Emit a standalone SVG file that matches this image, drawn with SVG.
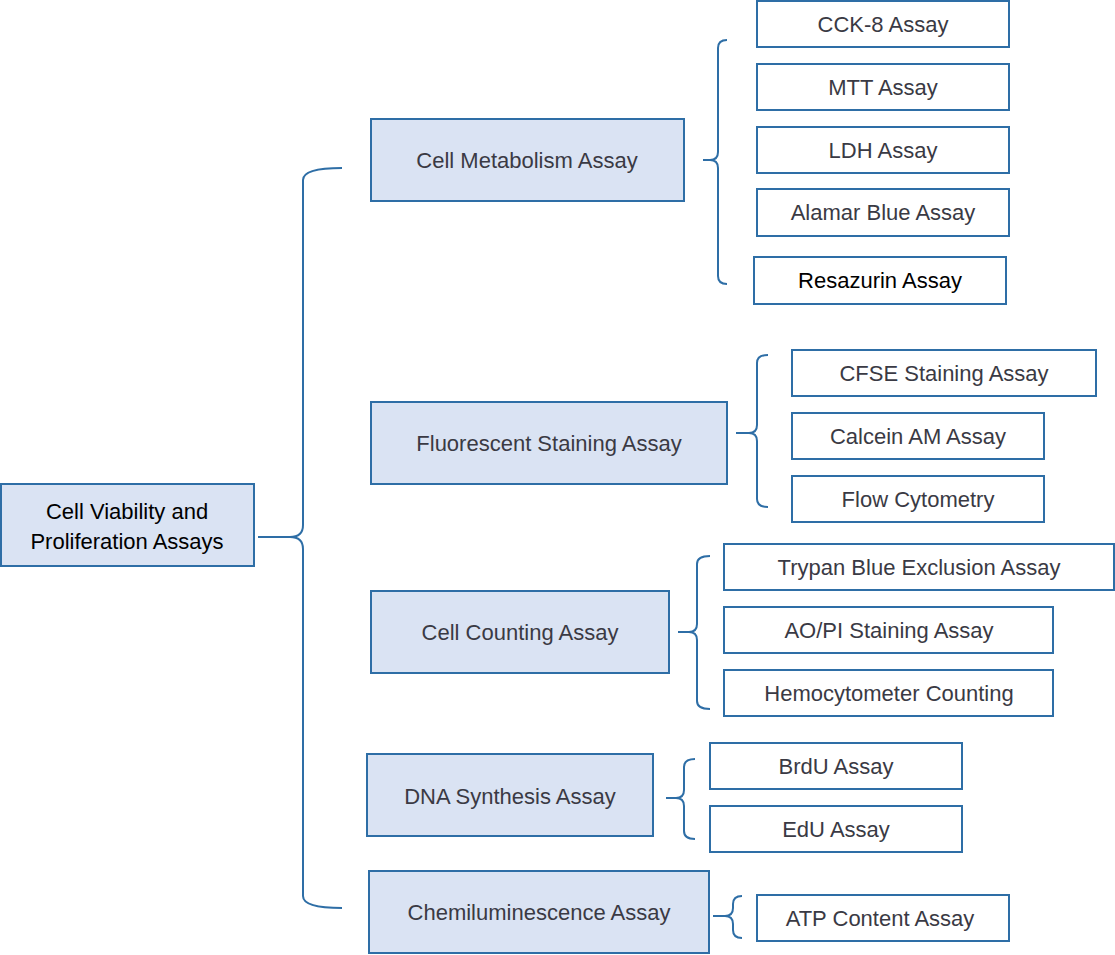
<svg xmlns="http://www.w3.org/2000/svg" width="1115" height="955" viewBox="0 0 1115 955">
<style>
.p{fill:#dae3f3;stroke:#2e6ea6;stroke-width:2}
.c{fill:#fff;stroke:#2e6ea6;stroke-width:2}
text{font-family:"Liberation Sans",Arial,sans-serif;font-size:22px;fill:#3a3a44;text-anchor:middle;dominant-baseline:central}
.k{fill:#000}
.b{fill:none;stroke:#2e6ea6;stroke-width:2}
</style>
<rect width="1115" height="955" fill="#fff"/>
<g id="connectors">
<path class="b" d="M342,168 Q303,168 303,180 V525 Q303,537 290,537 H258 M290,537 Q303,537 303,549 V896 Q303,908 342,908"/>
<path class="b" d="M727,40 Q718,40 718,48 V152 Q718,160 710,160 H703 M710,160 Q718,160 718,168 V276 Q718,284 727,284"/>
<path class="b" d="M768,355 Q757,355 757,363 V425 Q757,433 749,433 H736 M749,433 Q757,433 757,441 V499 Q757,507 768,507"/>
<path class="b" d="M710,556 Q697,556 697,564 V624 Q697,632 689,632 H678 M689,632 Q697,632 697,640 V701 Q697,709 710,709"/>
<path class="b" d="M695,759 Q684,759 684,767 V790 Q684,798 676,798 H666 M676,798 Q684,798 684,806 V831 Q684,839 695,839"/>
<path class="b" d="M742,896 Q733,896 733,904 V908 Q733,916 725,916 H713 M725,916 Q733,916 733,924 V930 Q733,938 742,938"/>
</g>
<g id="root"><rect class="p" x="1" y="484" width="253" height="82"/><text class="k" x="127" y="511">Cell Viability and</text><text class="k" x="127" y="541">Proliferation Assays</text></g>
<g id="metab"><rect class="p" x="371" y="119" width="313" height="82"/><text x="527" y="160">Cell Metabolism Assay</text></g>
<g id="fluor"><rect class="p" x="371" y="402" width="356" height="82"/><text x="549" y="443">Fluorescent Staining Assay</text></g>
<g id="count"><rect class="p" x="371" y="591" width="298" height="82"/><text x="520" y="632">Cell Counting Assay</text></g>
<g id="dna"><rect class="p" x="367" y="754" width="286" height="82"/><text x="510" y="796">DNA Synthesis Assay</text></g>
<g id="chemi"><rect class="p" x="369" y="871" width="340" height="82"/><text x="539" y="912">Chemiluminescence Assay</text></g>
<g id="cck8"><rect class="c" x="757" y="1" width="252" height="46"/><text x="883" y="24">CCK-8 Assay</text></g>
<g id="mtt"><rect class="c" x="757" y="64" width="252" height="46"/><text x="883" y="87">MTT Assay</text></g>
<g id="ldh"><rect class="c" x="757" y="127" width="252" height="46"/><text x="883" y="150">LDH Assay</text></g>
<g id="alamar"><rect class="c" x="757" y="189" width="252" height="47"/><text x="883" y="212">Alamar Blue Assay</text></g>
<g id="resazurin"><rect class="c" x="754" y="257" width="252" height="47"/><text class="k" x="880" y="280">Resazurin Assay</text></g>
<g id="cfse"><rect class="c" x="792" y="350" width="304" height="46"/><text x="944" y="373">CFSE Staining Assay</text></g>
<g id="calcein"><rect class="c" x="792" y="413" width="252" height="46"/><text x="918" y="436">Calcein AM Assay</text></g>
<g id="flow"><rect class="c" x="792" y="476" width="252" height="46"/><text x="918" y="499">Flow Cytometry</text></g>
<g id="trypan"><rect class="c" x="724" y="544" width="390" height="46"/><text x="919" y="567">Trypan Blue Exclusion Assay</text></g>
<g id="aopi"><rect class="c" x="724" y="607" width="329" height="46"/><text x="889" y="630">AO/PI Staining Assay</text></g>
<g id="hemo"><rect class="c" x="724" y="670" width="329" height="46"/><text x="889" y="693">Hemocytometer Counting</text></g>
<g id="brdu"><rect class="c" x="710" y="743" width="252" height="46"/><text x="836" y="766">BrdU Assay</text></g>
<g id="edu"><rect class="c" x="710" y="806" width="252" height="46"/><text x="836" y="829">EdU Assay</text></g>
<g id="atp"><rect class="c" x="757" y="895" width="252" height="46"/><text x="880" y="918">ATP Content Assay</text></g>
</svg>
